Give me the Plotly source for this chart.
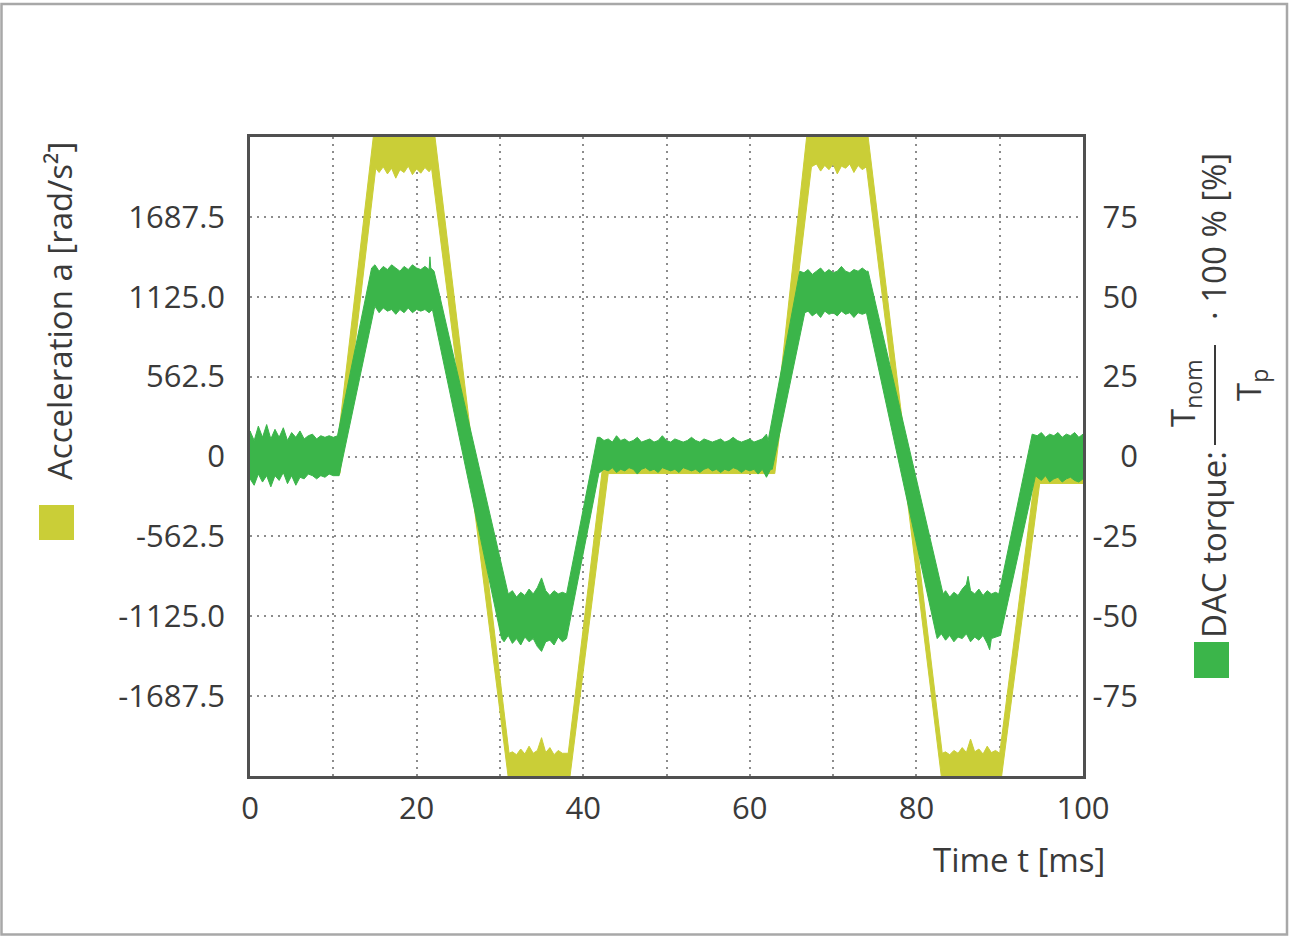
import plotly.graph_objects as go

# ---------------- data ----------------
# x axis ticks (time in ms); labelled ticks and the extra grid lines between them
X_TICKS = [0, 20, 40, 60, 80, 100]
X_LABELS = ["0", "20", "40", "60", "80", "100"]
X_MINOR = [10, 30, 50, 70, 90]

# left axis (acceleration, rad/s^2)
ACC_TICKS = [-1687.5, -1125.0, -562.5, 0, 562.5, 1125.0, 1687.5]
ACC_LABELS = ["-1687.5", "-1125.0", "-562.5", "0", "562.5", "1125.0", "1687.5"]
ACC_RANGE = [-2250, 2250]

# right axis (DAC torque, %)
TRQ_TICKS = [-75, -50, -25, 0, 25, 50, 75]
TRQ_LABELS = ["-75", "-50", "-25", "0", "25", "50", "75"]
TRQ_RANGE = [-100, 100]

# acceleration signal: upper / lower edge of the noisy trace (t [ms], a [rad/s^2])
ACC_UPPER = [
    (0, -20), (10.3, -20), (15.1, 2400), (21.9, 2400), (31.1, -2090),
    (31.5, -2080), (32.0, -2100), (32.5, -2060), (33.0, -2095), (33.5, -2040), (34.0, -2090),
    (34.5, -2070), (35.0, -1980), (35.5, -2085), (36.0, -2050), (36.5, -2100), (37.0, -2070),
    (37.5, -2090), (38.2, -2090),
    (42.4, -40), (62.6, -40), (67.1, 2400), (73.9, 2400), (83.1, -2090),
    (83.5, -2080), (84.0, -2100), (84.5, -2070), (85.0, -2090), (85.5, -2050), (86.0, -2085),
    (86.5, -1990), (87.0, -2080), (87.5, -2060), (88.0, -2095), (88.5, -2040), (89.0, -2085),
    (89.5, -2070), (90.0, -2090),
    (94.3, -110), (100, -110),
]
ACC_LOWER = [
    (0, -120), (10.8, -120), (15.1, 2030),
    (15.5, 2000), (16.0, 2040), (16.5, 1990), (17.0, 2030), (17.5, 1960), (18.0, 2020),
    (18.5, 2000), (19.0, 2045), (19.5, 1985), (20.0, 2025), (20.5, 1995), (21.0, 2035),
    (21.5, 2005), (21.8, 2030),
    (31.3, -2400), (38.1, -2400), (43.0, -120), (63.0, -120), (67.4, 2040),
    (68.0, 2060), (68.5, 2010), (69.0, 2050), (69.5, 2020), (70.0, 2060), (70.5, 1990),
    (71.0, 2045), (71.5, 2030), (72.0, 2060), (72.5, 2000), (73.0, 2050), (73.5, 2020),
    (74.0, 2040),
    (83.3, -2400), (89.9, -2400), (94.8, -190), (100, -190),
]

# DAC torque signal: upper / lower edge of the noisy trace (t [ms], torque [%])
TRQ_UPPER = [
    (0.0, 8), (0.5, 5), (1.0, 9.5), (1.5, 6), (2.0, 10), (2.5, 5.5), (3.0, 8.5), (3.5, 6),
    (4.0, 9), (4.5, 5), (5.0, 7.5), (5.5, 6), (6.0, 8), (6.5, 5.5), (7.0, 6.5), (7.5, 7),
    (8.0, 5.5), (8.5, 6.5), (9.0, 6), (9.5, 6.5), (10.0, 6), (10.5, 6.5),
    (14.6, 59),
    (15.0, 60), (15.5, 58), (16.0, 59.5), (16.5, 58.5), (17.0, 60), (17.5, 59), (18.0, 58),
    (18.5, 59.5), (19.0, 58.5), (19.5, 60), (20.0, 59), (20.5, 58.5), (21.0, 59.5),
    (21.5, 58.5), (21.6, 62.5), (21.7, 59), (22.1, 58),
    (31.0, -43),
    (31.5, -42), (32.0, -44), (32.5, -42.5), (33.0, -43.5), (33.5, -41.5), (34.0, -43),
    (34.5, -41), (35.0, -38), (35.5, -42), (36.0, -43.5), (36.5, -42), (37.0, -43),
    (37.5, -42.5), (38.0, -43),
    (41.7, 6),
    (42.0, 6), (42.5, 5), (43.0, 5.5), (43.5, 4.5), (44.0, 6.5), (44.5, 5), (45.0, 5.5),
    (45.5, 4.5), (46.0, 5), (46.5, 6), (47.0, 4.5), (47.5, 5), (48.0, 5.5), (48.5, 4.5),
    (49.0, 5), (49.5, 6.5), (50.0, 5), (50.5, 4.5), (51.0, 5.5), (51.5, 5), (52.0, 4.5),
    (52.5, 5), (53.0, 6), (53.5, 5), (54.0, 4.5), (54.5, 5.5), (55.0, 5), (55.5, 4.5),
    (56.0, 5), (56.5, 5.5), (57.0, 4.5), (57.5, 5), (58.0, 6), (58.5, 5), (59.0, 4.5),
    (59.5, 5), (60.0, 5.5), (60.5, 4.5), (61.0, 5), (61.5, 5.5), (62.0, 7),
    (62.2, 5), (66.0, 58),
    (66.5, 57.5), (67.0, 58.5), (67.5, 57), (68.0, 58), (68.5, 59), (69.0, 57.5), (69.5, 58.5),
    (70.0, 57.5), (70.5, 58), (71.0, 59.5), (71.5, 58), (72.0, 57.5), (72.5, 58.5), (73.0, 58),
    (73.5, 59), (74.0, 58), (74.2, 58),
    (83.2, -43),
    (83.5, -42), (84.0, -44), (84.5, -42.5), (85.0, -43.5), (85.5, -41.5), (86.0, -40),
    (86.2, -37.5), (86.5, -42), (87.0, -43), (87.5, -41.5), (88.0, -43.5), (88.5, -42),
    (89.0, -43), (89.5, -42.5), (89.9, -43),
    (93.9, 7),
    (94.5, 6.5), (95.0, 7.5), (95.5, 6), (96.0, 7), (96.5, 6.5), (97.0, 7.5), (97.5, 6),
    (98.0, 7), (98.5, 6.5), (99.0, 7.5), (99.5, 6), (100.0, 7),
]
TRQ_LOWER = [
    (0.0, -7), (0.5, -9), (1.0, -5.5), (1.5, -8), (2.0, -6), (2.5, -9.5), (3.0, -6), (3.5, -7.5),
    (4.0, -5), (4.5, -8.5), (5.0, -6), (5.5, -9), (6.0, -6.5), (6.5, -7), (7.0, -5.5), (7.5, -6),
    (8.0, -7), (8.5, -6), (9.0, -6.5), (9.5, -5.5), (10.0, -6), (10.7, -6),
    (14.9, 46),
    (15.0, 47), (15.5, 45), (16.0, 46.5), (16.5, 45.5), (17.0, 46), (17.5, 44.5), (18.0, 46),
    (18.5, 45), (19.0, 46.5), (19.5, 45), (20.0, 46), (20.5, 45.5), (21.0, 46), (21.5, 45),
    (21.9, 46),
    (30.2, -57),
    (30.5, -58), (31.0, -56), (31.5, -58.5), (32.0, -57), (32.5, -59), (33.0, -56.5),
    (33.5, -58), (34.0, -57), (34.5, -59.5), (35.0, -61), (35.5, -58), (36.0, -57.5),
    (36.5, -59), (37.0, -56.5), (37.5, -58), (38.0, -57),
    (41.9, -5),
    (42.0, -5), (42.5, -4), (43.0, -4.5), (43.5, -3.5), (44.0, -5), (44.5, -4), (45.0, -4.5),
    (45.5, -3.5), (46.0, -4), (46.5, -5.5), (47.0, -4), (47.5, -3.5), (48.0, -4.5), (48.5, -4),
    (49.0, -5), (49.5, -3.5), (50.0, -4), (50.5, -4.5), (51.0, -4), (51.5, -5), (52.0, -3.5),
    (52.5, -4), (53.0, -4.5), (53.5, -4), (54.0, -5), (54.5, -4), (55.0, -3.5), (55.5, -4.5),
    (56.0, -4), (56.5, -5), (57.0, -4), (57.5, -4.5), (58.0, -3.5), (58.5, -4), (59.0, -5),
    (59.5, -4), (60.0, -4.5), (60.5, -4), (61.0, -5.5), (61.5, -4), (62.0, -6.5), (62.5, -4),
    (62.7, -4), (66.6, 45),
    (67.0, 45.5), (67.5, 44), (68.0, 45), (68.5, 43.5), (69.0, 45.5), (69.5, 44.5), (70.0, 45),
    (70.5, 44), (71.0, 45.5), (71.5, 44.5), (72.0, 45), (72.5, 43.5), (73.0, 45), (73.5, 44.5),
    (74.0, 45),
    (82.4, -56),
    (82.5, -57), (83.0, -55.5), (83.5, -57.5), (84.0, -56), (84.5, -58), (85.0, -56.5),
    (85.5, -57), (86.0, -55.5), (86.5, -58), (87.0, -56.5), (87.5, -57.5), (88.0, -56),
    (88.5, -58.5), (88.8, -60.5), (89.0, -57), (89.5, -56.5), (90.1, -56),
    (94.3, -6),
    (94.5, -6.5), (95.0, -7.5), (95.5, -6), (96.0, -8), (96.5, -7), (97.0, -6.5), (97.5, -8),
    (98.0, -7), (98.5, -6.5), (99.0, -7.5), (99.5, -8), (100.0, -7),
]

# ---------------- styling ----------------
W, H = 1291, 939
PL, PR, PT, PB = 250, 1083, 137, 776      # plot frame in pixels
AREA_R = 1150                              # right edge of the layout area (room for right labels)
RLAB_R = 1141                              # right edge of right-axis tick labels
YELLOW = "#cace37"
GREEN = "#3bb54a"
TXT = "#3a3a3a"
FONT = "Open Sans"
GRIDC = "#8c8c8c"


def px(x):
    return (x - PL) / (AREA_R - PL)


def py(y):
    return 1 - (y - PT) / (PB - PT)


def band(upper, lower):
    xs = [p[0] for p in upper] + [p[0] for p in reversed(lower)]
    ys = [p[1] for p in upper] + [p[1] for p in reversed(lower)]
    return xs + [xs[0]], ys + [ys[0]]


fig = go.Figure()

ax, ay = band(ACC_UPPER, ACC_LOWER)
fig.add_trace(go.Scatter(x=ax, y=ay, mode="lines", fill="toself", fillcolor=YELLOW,
                         line=dict(color=YELLOW, width=1), name="Acceleration a",
                         showlegend=False, hoverinfo="skip"))

tx, ty = band(TRQ_UPPER, TRQ_LOWER)
fig.add_trace(go.Scatter(x=tx, y=ty, mode="lines", fill="toself", fillcolor=GREEN,
                         line=dict(color=GREEN, width=1), name="DAC torque",
                         yaxis="y2", showlegend=False, hoverinfo="skip"))

grid = dict(showgrid=True, gridcolor=GRIDC, gridwidth=1.6, griddash="2px,5px")

fig.update_layout(
    width=W, height=H,
    margin=dict(l=PL, r=W - AREA_R, t=PT, b=H - PB),
    paper_bgcolor="white", plot_bgcolor="white",
    font=dict(family=FONT, color=TXT, size=31),
    xaxis=dict(domain=[0, px(PR)], range=[0, 100], tickmode="array",
               tickvals=X_TICKS, ticktext=X_LABELS,
               minor=dict(tickmode="array", tickvals=X_MINOR, showgrid=True, gridcolor=GRIDC,
                          gridwidth=1.6, griddash="2px,5px", ticks=""),
               showline=True, mirror=True, linecolor="#505050", linewidth=2.5,
               zeroline=False, ticks="", ticklabelstandoff=3,
               tickfont=dict(size=31, color=TXT), **grid),
    yaxis=dict(range=ACC_RANGE, tickmode="array", tickvals=ACC_TICKS, ticktext=ACC_LABELS,
               showline=True, mirror=True, linecolor="#505050", linewidth=2.5,
               zeroline=False, ticks="", ticklabelstandoff=16,
               tickfont=dict(size=31, color=TXT), **grid),
    yaxis2=dict(range=TRQ_RANGE, overlaying="y", side="right", anchor="free",
                position=px(RLAB_R), ticklabelposition="inside", tickmode="array",
                tickvals=TRQ_TICKS, ticktext=TRQ_LABELS, showgrid=False, zeroline=False,
                showline=False, ticks="", ticklabelstandoff=0,
                tickfont=dict(size=31, color=TXT)),
)

# outer frame of the figure
fig.add_shape(type="rect", xref="paper", yref="paper",
              x0=px(1.5), x1=px(1287), y0=py(4), y1=py(934.5),
              line=dict(color="#a8a8a8", width=2.5), layer="below")

# legend squares
fig.add_shape(type="rect", xref="paper", yref="paper",
              x0=px(39), x1=px(74), y0=py(540), y1=py(505),
              line=dict(width=0), fillcolor=YELLOW)
fig.add_shape(type="rect", xref="paper", yref="paper",
              x0=px(1194), x1=px(1229), y0=py(678), y1=py(642),
              line=dict(width=0), fillcolor=GREEN)

# fraction bar of right axis title
fig.add_shape(type="line", xref="paper", yref="paper",
              x0=px(1215), x1=px(1215), y0=py(345), y1=py(445),
              line=dict(color=TXT, width=2))

ann = dict(xref="paper", yref="paper", showarrow=False, xanchor="center", yanchor="middle",
           font=dict(family=FONT, size=33, color=TXT))

fig.add_annotation(text="Acceleration a [rad/s²]", x=px(60), y=py(311), textangle=-90, **ann)
fig.add_annotation(text="DAC torque:", x=px(1213), y=py(545), textangle=-90, **ann)
fig.add_annotation(text="T<sub>nom</sub>", x=px(1184), y=py(393), textangle=-90, **ann)
fig.add_annotation(text="T<sub>p</sub>", x=px(1250), y=py(385), textangle=-90, **ann)
fig.add_annotation(text="· 100 % [%]", x=px(1213), y=py(237), textangle=-90, **ann)
fig.add_annotation(text="Time t [ms]", xref="paper", yref="paper", showarrow=False,
                   x=px(1107), y=py(860), xanchor="right", yanchor="middle",
                   font=dict(family=FONT, size=33, color=TXT))

fig.write_html("out.html")
